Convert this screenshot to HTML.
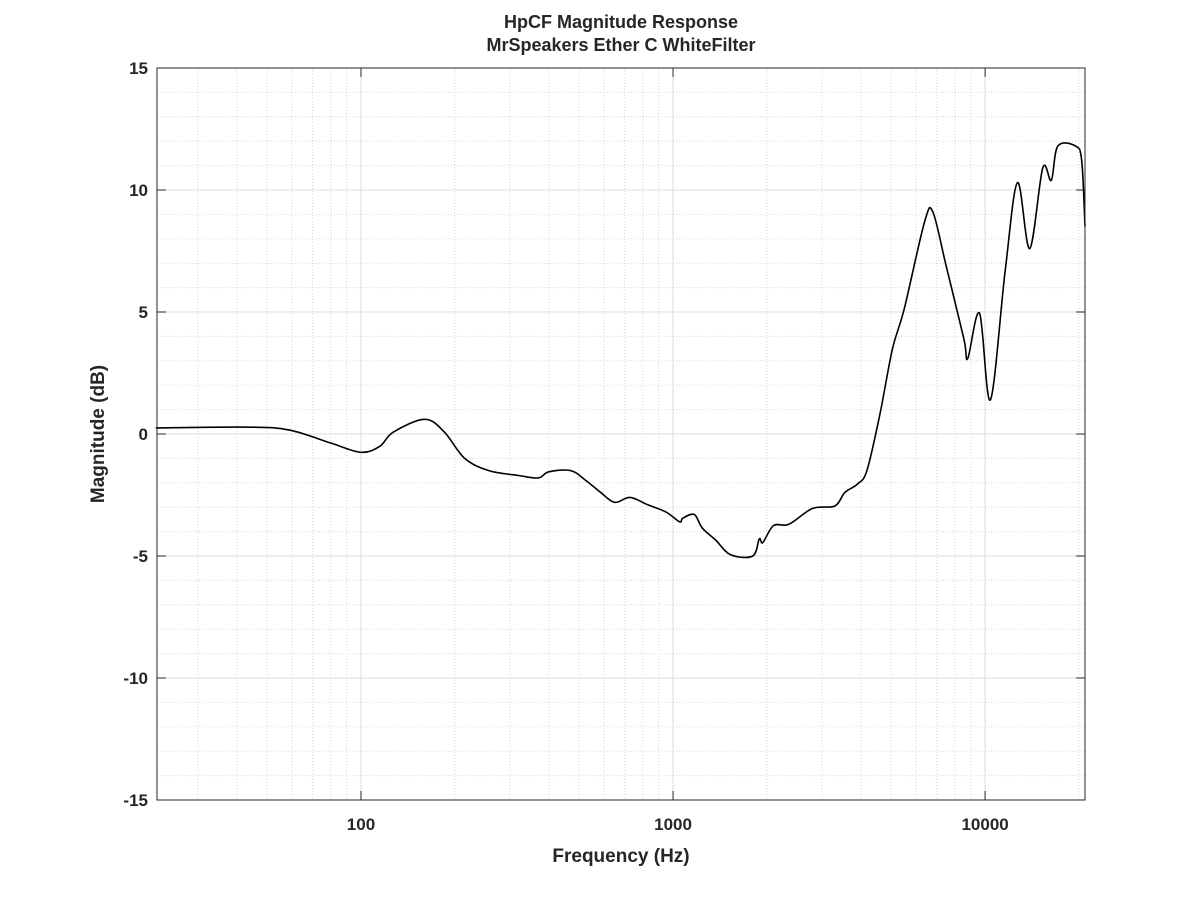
<!DOCTYPE html>
<html><head><meta charset="utf-8"><style>
body{margin:0;background:#fff;}
svg{display:block;font-family:"Liberation Sans",Arial,sans-serif;}
</style></head><body>
<svg id="chart" width="1199" height="899" xmlns="http://www.w3.org/2000/svg">
<rect width="1199" height="899" fill="#fff"/>
<text x="621" y="28" text-anchor="middle" font-size="18" font-weight="bold" fill="#262626">HpCF Magnitude Response</text>
<text x="621" y="51" text-anchor="middle" font-size="18" font-weight="bold" fill="#262626">MrSpeakers Ether C WhiteFilter</text>
<g id="grid"></g><g id="ticks"></g>
<path id="curve" fill="none" stroke="#000" stroke-width="1.6"/>
<rect x="157" y="68" width="928" height="732" fill="none" stroke="#262626" stroke-width="1"/>
<text x="621" y="862" text-anchor="middle" font-size="19" font-weight="bold" fill="#262626">Frequency (Hz)</text>
<text transform="translate(104,434) rotate(-90)" text-anchor="middle" font-size="19" font-weight="bold" fill="#262626">Magnitude (dB)</text>
</svg>
<script>
const freqs=[22,44,59,80,100,115,127,160,185,215,257,320,370,400,470,525,587,650,728,830,950,1050,1075,1170,1240,1370,1530,1800,1890,1940,2100,2350,2800,3300,3550,3900,4180,4600,5050,5500,6400,6800,7500,8550,8800,9600,10400,11600,12700,13900,15300,16300,17100,19500,20400,20900];
const dbs=[0.25,0.28,0.16,-0.37,-0.75,-0.5,0.08,0.6,0.08,-1.0,-1.5,-1.7,-1.8,-1.55,-1.5,-1.9,-2.4,-2.8,-2.6,-2.9,-3.2,-3.6,-3.45,-3.3,-3.85,-4.35,-4.95,-5.0,-4.3,-4.45,-3.75,-3.7,-3.05,-2.95,-2.4,-2.05,-1.5,0.8,3.5,5.1,8.7,9.1,6.9,3.9,3.1,4.95,1.4,6.7,10.3,7.6,10.9,10.4,11.8,11.8,11.2,8.5];
const yTicks=[-15,-10,-5,0,5,10,15];
const xTicks=[100,1000,10000];
const L=157,R=1085,T=68,B=800,FMIN=22.2,FMAX=20900;
const lmin=Math.log10(FMIN),lmax=Math.log10(FMAX);
const xs=f=>L+(Math.log10(f)-lmin)/(lmax-lmin)*(R-L);
const ys=d=>T+(15-d)/30*(B-T);
const NS="http://www.w3.org/2000/svg";
const grid=document.getElementById('grid'),ticks=document.getElementById('ticks');
function line(p,x1,y1,x2,y2,st,dash){const l=document.createElementNS(NS,'line');l.setAttribute('x1',x1);l.setAttribute('y1',y1);l.setAttribute('x2',x2);l.setAttribute('y2',y2);l.setAttribute('stroke',st);if(dash)l.setAttribute('stroke-dasharray',dash);p.appendChild(l);return l;}
for(let d=-14;d<15;d++){if(d%5===0)continue;const l=line(grid,L,ys(d),R,ys(d),'#d6d6d6','1,2');

}
for(let e=1;e<=4;e++)for(let m=1;m<10;m++){const f=m*Math.pow(10,e);if(f<FMIN||f>FMAX||m===1)continue;const l=line(grid,xs(f),T,xs(f),B,'#d6d6d6','1,2');

}
yTicks.forEach(d=>{const y=ys(d);const l=line(grid,L,y,R,y,'#dcdcdc');


line(ticks,L,y,L+9,y,'#262626');line(ticks,R,y,R-9,y,'#262626');
const t=document.createElementNS(NS,'text');t.setAttribute('x',L-9);t.setAttribute('y',y+6);t.setAttribute('text-anchor','end');t.setAttribute('font-size','17');t.setAttribute('font-weight','bold');t.setAttribute('fill','#262626');t.textContent=d;


ticks.appendChild(t);});
xTicks.forEach(f=>{const x=xs(f);const l=line(grid,x,T,x,B,'#dcdcdc');


line(ticks,x,B,x,B-9,'#262626');line(ticks,x,T,x,T+9,'#262626');
const t=document.createElementNS(NS,'text');t.setAttribute('x',x);t.setAttribute('y',B+30);t.setAttribute('text-anchor','middle');t.setAttribute('font-size','17');t.setAttribute('font-weight','bold');t.setAttribute('fill','#262626');t.textContent=f;


ticks.appendChild(t);});
const P=freqs.map((f,i)=>[xs(f),ys(dbs[i])]);
let d='M'+P[0][0]+','+P[0][1];
for(let i=0;i<P.length-1;i++){const p0=P[Math.max(0,i-1)],p1=P[i],p2=P[i+1],p3=P[Math.min(P.length-1,i+2)];
const c1=[p1[0]+(p2[0]-p0[0])/6,p1[1]+(p2[1]-p0[1])/6],c2=[p2[0]-(p3[0]-p1[0])/6,p2[1]-(p3[1]-p1[1])/6];
d+=` C${c1[0]},${c1[1]} ${c2[0]},${c2[1]} ${p2[0]},${p2[1]}`;}
document.getElementById('curve').setAttribute('d',d);
</script>
</body></html>
